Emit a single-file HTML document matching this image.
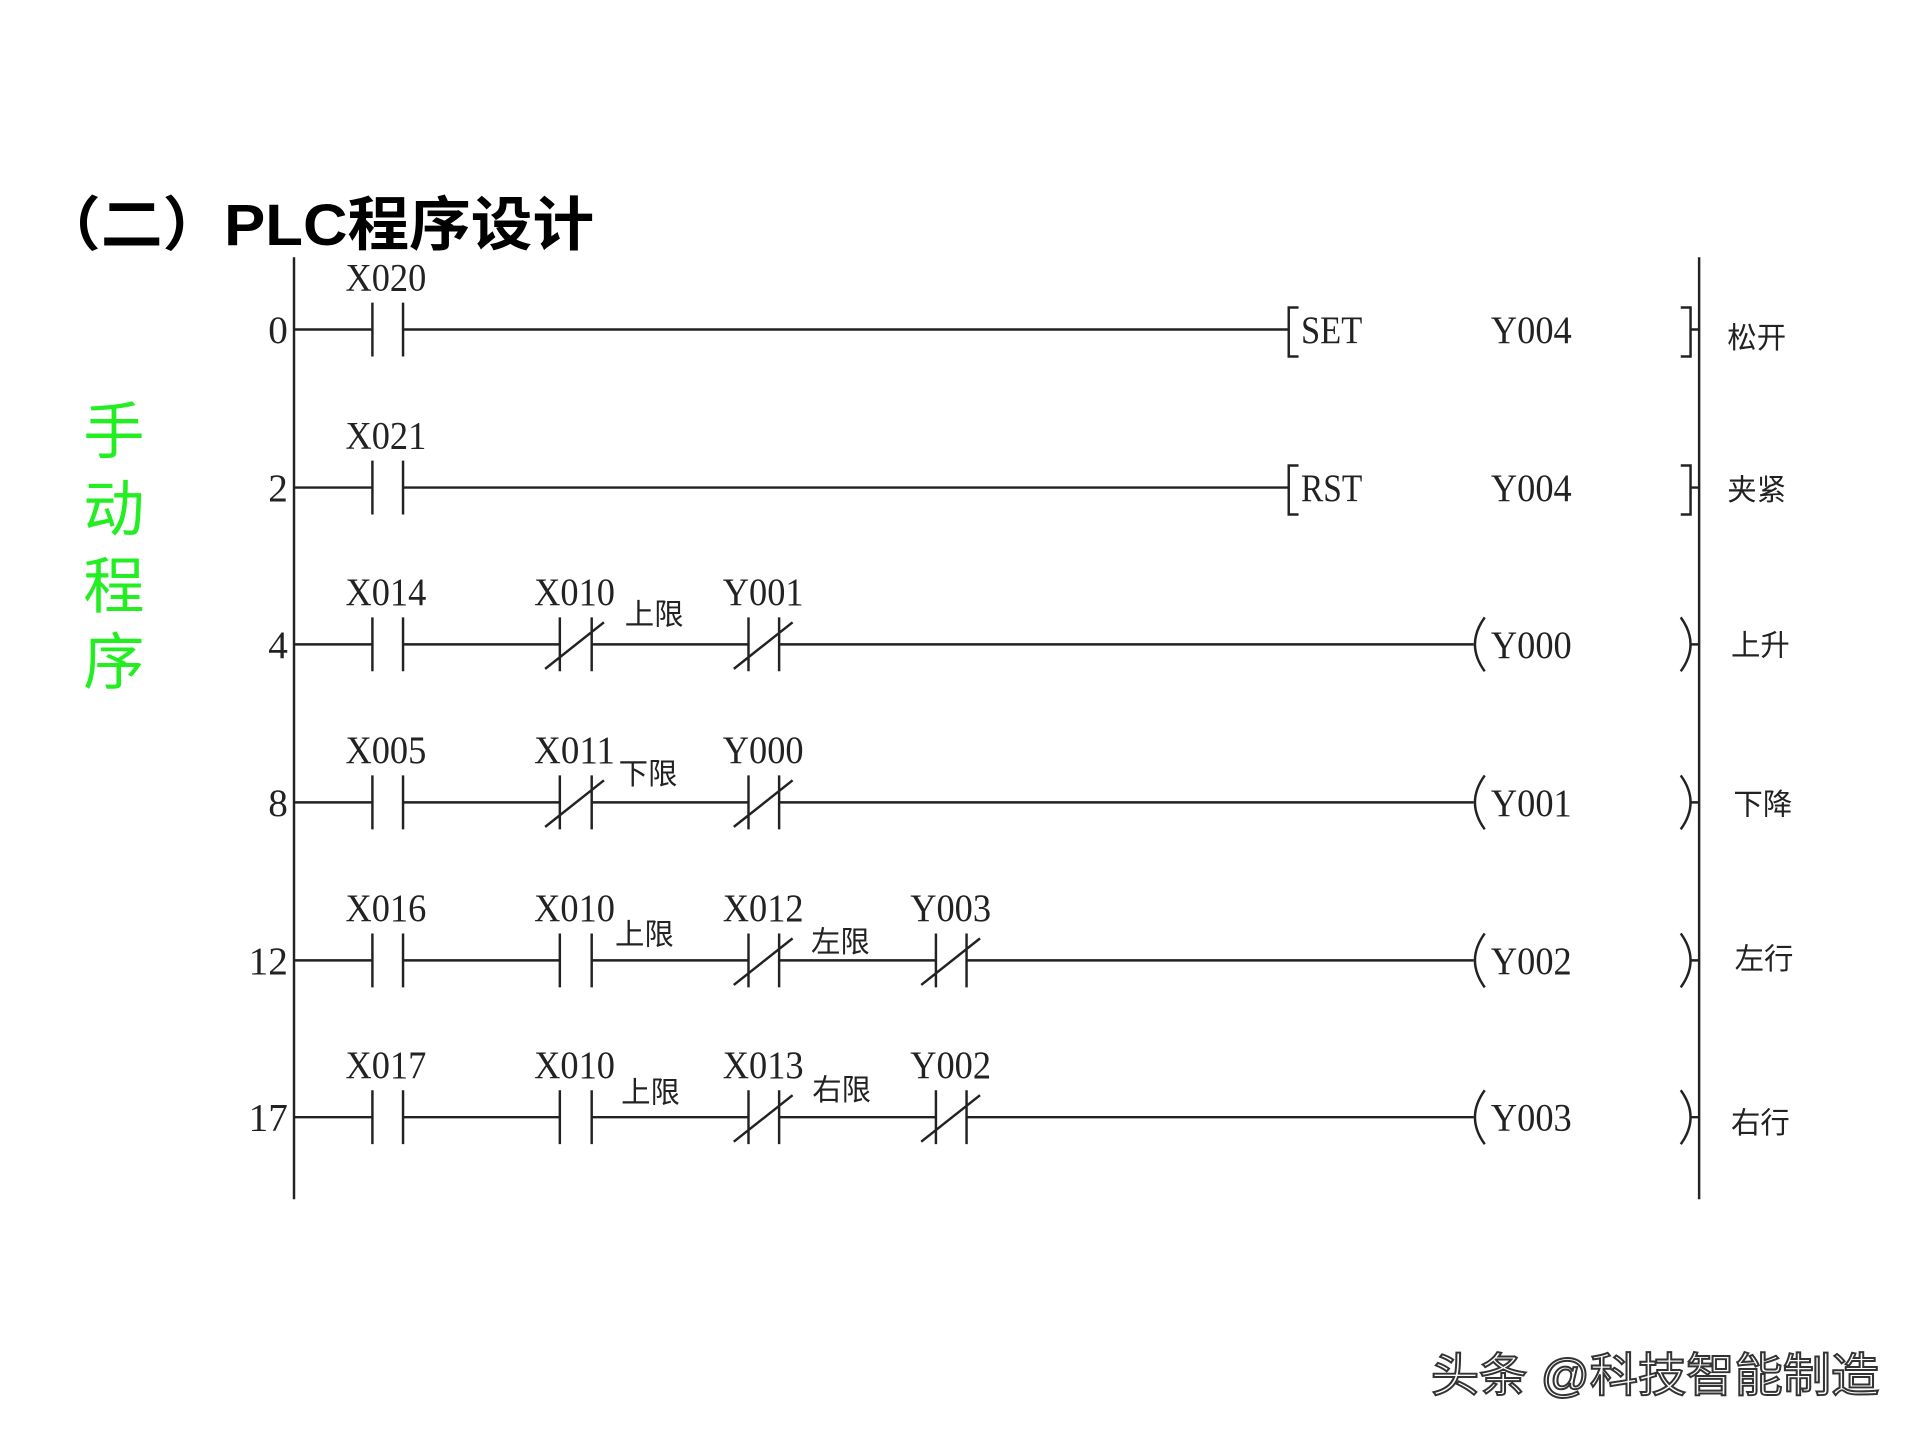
<!DOCTYPE html>
<html><head><meta charset="utf-8"><style>
html,body{margin:0;padding:0;background:#fff;}
svg{display:block;}
.m{font-family:"Liberation Serif","Noto Serif CJK SC",serif;fill:#222;}
.c{font-family:"Liberation Sans","Noto Sans CJK SC",sans-serif;fill:#222;}
</style></head><body>
<svg width="1920" height="1440" viewBox="0 0 1567.3 1175.5" preserveAspectRatio="none" xmlns="http://www.w3.org/2000/svg">
<rect width="1567.3" height="1175.5" fill="#fff"/>
<text x="32" y="200" font-size="48" font-weight="bold" font-family="'Liberation Sans','Noto Sans CJK SC',sans-serif" fill="#000" textLength="453" lengthAdjust="spacingAndGlyphs">（二）PLC程序设计</text>
<g font-family="'Liberation Sans','Noto Sans CJK SC',sans-serif" font-size="50" fill="#22ee22">
<text x="68" y="370">手</text><text x="68" y="433">动</text><text x="68" y="496">程</text><text x="68" y="558">序</text>
</g>
<g stroke="#222" stroke-width="2" fill="none">
<line x1="240" y1="210" x2="240" y2="979"/>
<line x1="1387" y1="210" x2="1387" y2="979"/>
</g>
<g id="rungs" stroke="#222" stroke-width="2" fill="none">
<path d="M240 269H304M304 247V291M329 247V291M329 269H1052M1060 251H1052V291H1060M1372 251H1380V291H1372M1380 269H1387"/>
<path d="M240 398H304M304 376V420M329 376V420M329 398H1052M1060 380H1052V420H1060M1372 380H1380V420H1372M1380 398H1387"/>
<path d="M240 526H304M304 504V548M329 504V548M329 526H457M457 504V548M483 504V548M445 546L493 508M483 526H611M611 504V548M636 504V548M599 546L647 508M636 526H1203"/>
<path d="M1212 504Q1196 526 1212 548M1372 504Q1388 526 1372 548M1380 526H1387"/>
<path d="M240 655H304M304 633V677M329 633V677M329 655H457M457 633V677M483 633V677M445 675L493 637M483 655H611M611 633V677M636 633V677M599 675L647 637M636 655H1203"/>
<path d="M1212 633Q1196 655 1212 677M1372 633Q1388 655 1372 677M1380 655H1387"/>
<path d="M240 784H304M304 762V806M329 762V806M329 784H457M457 762V806M483 762V806M483 784H611M611 762V806M636 762V806M599 804L647 766M636 784H764M764 762V806M789 762V806M752 804L800 766M789 784H1203"/>
<path d="M1212 762Q1196 784 1212 806M1372 762Q1388 784 1372 806M1380 784H1387"/>
<path d="M240 912H304M304 890V934M329 890V934M329 912H457M457 890V934M483 890V934M483 912H611M611 890V934M636 890V934M599 932L647 894M636 912H764M764 890V934M789 890V934M752 932L800 894M789 912H1203"/>
<path d="M1212 890Q1196 912 1212 934M1372 890Q1388 912 1372 934M1380 912H1387"/>
</g>
<g class="m" font-size="32">
<text x="235" y="280" text-anchor="end">0</text>
<text x="235" y="409" text-anchor="end">2</text>
<text x="235" y="537" text-anchor="end">4</text>
<text x="235" y="666" text-anchor="end">8</text>
<text x="235" y="795" text-anchor="end" textLength="32" lengthAdjust="spacingAndGlyphs">12</text>
<text x="235" y="923" text-anchor="end" textLength="32" lengthAdjust="spacingAndGlyphs">17</text>
<text x="282" y="237" textLength="66" lengthAdjust="spacingAndGlyphs">X020</text>
<text x="282" y="366" textLength="66" lengthAdjust="spacingAndGlyphs">X021</text>
<text x="282" y="494" textLength="66" lengthAdjust="spacingAndGlyphs">X014</text>
<text x="436" y="494" textLength="66" lengthAdjust="spacingAndGlyphs">X010</text>
<text x="590" y="494" textLength="66" lengthAdjust="spacingAndGlyphs">Y001</text>
<text x="282" y="623" textLength="66" lengthAdjust="spacingAndGlyphs">X005</text>
<text x="436" y="623" textLength="66" lengthAdjust="spacingAndGlyphs">X011</text>
<text x="590" y="623" textLength="66" lengthAdjust="spacingAndGlyphs">Y000</text>
<text x="282" y="752" textLength="66" lengthAdjust="spacingAndGlyphs">X016</text>
<text x="436" y="752" textLength="66" lengthAdjust="spacingAndGlyphs">X010</text>
<text x="590" y="752" textLength="66" lengthAdjust="spacingAndGlyphs">X012</text>
<text x="743" y="752" textLength="66" lengthAdjust="spacingAndGlyphs">Y003</text>
<text x="282" y="880" textLength="66" lengthAdjust="spacingAndGlyphs">X017</text>
<text x="436" y="880" textLength="66" lengthAdjust="spacingAndGlyphs">X010</text>
<text x="590" y="880" textLength="66" lengthAdjust="spacingAndGlyphs">X013</text>
<text x="743" y="880" textLength="66" lengthAdjust="spacingAndGlyphs">Y002</text>
<text x="1062" y="280" textLength="50" lengthAdjust="spacingAndGlyphs">SET</text>
<text x="1062" y="409" textLength="50" lengthAdjust="spacingAndGlyphs">RST</text>
<text x="1217" y="280" textLength="66" lengthAdjust="spacingAndGlyphs">Y004</text>
<text x="1217" y="409" textLength="66" lengthAdjust="spacingAndGlyphs">Y004</text>
<text x="1217" y="537" textLength="66" lengthAdjust="spacingAndGlyphs">Y000</text>
<text x="1217" y="666" textLength="66" lengthAdjust="spacingAndGlyphs">Y001</text>
<text x="1217" y="795" textLength="66" lengthAdjust="spacingAndGlyphs">Y002</text>
<text x="1217" y="923" textLength="66" lengthAdjust="spacingAndGlyphs">Y003</text>
</g>
<g class="c" font-size="24">
<text x="510" y="510">上限</text>
<text x="505" y="640">下限</text>
<text x="502" y="771">上限</text>
<text x="662" y="777">左限</text>
<text x="507" y="900">上限</text>
<text x="663" y="898">右限</text>
<text x="1410" y="284">松开</text>
<text x="1410" y="408">夹紧</text>
<text x="1413" y="535">上升</text>
<text x="1415" y="665">下降</text>
<text x="1416" y="791">左行</text>
<text x="1413" y="925">右行</text>
</g>
<text x="1168" y="1136" font-size="38" font-family="'Liberation Sans','Noto Sans CJK SC',sans-serif" fill="#fff" stroke="#333" stroke-width="1.6" textLength="366" lengthAdjust="spacingAndGlyphs">头条 @科技智能制造</text>
</svg>
</body></html>
